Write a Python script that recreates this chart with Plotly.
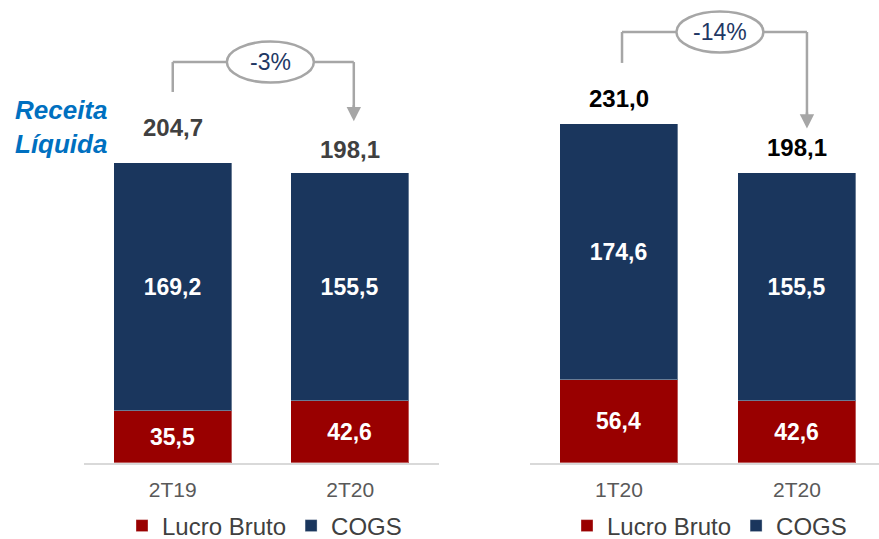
import plotly.graph_objects as go

# ---- data ----
left_categories = ["2T19", "2T20"]
left_lucro = [35.5, 42.6]
left_cogs = [169.2, 155.5]
left_totals = [204.7, 198.1]
left_change = "-3%"

right_categories = ["1T20", "2T20"]
right_lucro = [56.4, 42.6]
right_cogs = [174.6, 155.5]
right_totals = [231.0, 198.1]
right_change = "-14%"

series_names = ["Lucro Bruto", "COGS"]
side_title = "Receita<br>Líquida"

RED = "#990000"
NAVY = "#1A365D"
GRAY_LINE = "#A6A6A6"
FONT = "Liberation Sans, Arial, sans-serif"


def fmt(v):
    return f"{v:.1f}".replace(".", ",")


W, H = 879, 539
BASE_PX = 463          # baseline (px from top)
PX_PER_UNIT = 1.466
YMAX = BASE_PX / PX_PER_UNIT

fig = go.Figure()

panels = [
    ("x", "y", "legend", left_categories, left_lucro, left_cogs),
    ("x2", "y2", "legend2", right_categories, right_lucro, right_cogs),
]
for xa, ya, lg, cats, lucro, cogs in panels:
    fig.add_trace(go.Bar(
        x=cats, y=lucro, name=series_names[0], xaxis=xa, yaxis=ya, legend=lg,
        marker=dict(color=RED, line=dict(color="rgba(255,255,255,0.35)", width=1)),
        width=0.665, text=[fmt(v) for v in lucro], textposition="inside",
        insidetextanchor="middle", textangle=0,
        textfont=dict(color="white", size=23, family=FONT, weight="bold"),
        hoverinfo="skip",
    ))
    fig.add_trace(go.Bar(
        x=cats, y=cogs, name=series_names[1], xaxis=xa, yaxis=ya, legend=lg,
        marker=dict(color=NAVY, line=dict(color="rgba(255,255,255,0.35)", width=1)),
        width=0.665, text=[fmt(v) for v in cogs], textposition="inside",
        insidetextanchor="middle", textangle=0,
        textfont=dict(color="white", size=23, family=FONT, weight="bold"),
        hoverinfo="skip",
    ))

axis_common = dict(
    type="category", showgrid=False, zeroline=False, showline=True,
    linecolor="#D9D9D9", linewidth=2, ticks="outside", ticklen=7,
    tickcolor="rgba(0,0,0,0)", tickfont=dict(size=21, color="#595959", family=FONT),
    fixedrange=True, automargin=False,
)
yaxis_common = dict(range=[0, YMAX], domain=[(H - BASE_PX) / H, 1], visible=False,
                    fixedrange=True, automargin=False)

annotations = []
shapes = []

# total labels
label_specs = [
    ("x", "y", left_totals, "#404040", [35, 23]),
    ("x2", "y2", right_totals, "#000000", [26, 25]),
]
for xa, ya, totals, col, shifts in label_specs:
    for i, t in enumerate(totals):
        annotations.append(dict(
            x=i, y=t, xref=xa, yref=ya, text=f"<b>{fmt(t)}</b>", showarrow=False,
            yanchor="middle", yshift=shifts[i],
            font=dict(size=24, color=col, family=FONT),
        ))

# change brackets: (xref, yref, x_start, x_end, y_start, y_level, y_tip, oval_center, text)
brackets = [
    ("x", "y", 0.0, 1.02, left_totals[0] + 48.4, left_totals[0] + 68.8,
     left_totals[1] + 35.0, 0.55, left_change),
    ("x2", "y2", 0.017, 1.056, right_totals[0] + 41.9, right_totals[0] + 63.0,
     right_totals[1] + 30.0, 0.567, right_change),
]
for xa, ya, xs, xe, ys, yl, yt, oc, txt in brackets:
    ln = dict(color=GRAY_LINE, width=2.5)
    shapes.append(dict(type="line", xref=xa, yref=ya, x0=xs, x1=xs, y0=ys, y1=yl, line=ln))
    shapes.append(dict(type="line", xref=xa, yref=ya, x0=xs, x1=xe, y0=yl, y1=yl, line=ln))
    shapes.append(dict(type="line", xref=xa, yref=ya, x0=xe, x1=xe, y0=yl, y1=yt + 8, line=ln))
    annotations.append(dict(
        x=xe, y=yt, xref=xa, yref=ya, ax=xe, ay=yt + 12, axref=xa, ayref=ya,
        text="", showarrow=True, arrowhead=2, arrowsize=1.15, arrowwidth=2.5,
        arrowcolor=GRAY_LINE, standoff=0, startstandoff=0,
    ))
    shapes.append(dict(
        type="circle", xref=xa, yref=ya, xsizemode="pixel", ysizemode="pixel",
        xanchor=oc, yanchor=yl, x0=-43.5, x1=43.5, y0=-20.5, y1=20.5,
        fillcolor="white", line=ln, layer="above",
    ))
    annotations.append(dict(
        x=oc, y=yl, xref=xa, yref=ya, text=txt, showarrow=False,
        font=dict(size=23, color="#1F3864", family=FONT), yanchor="middle",
    ))

annotations.append(dict(
    x=13 / W, y=(H - 127) / H, xref="paper", yref="paper", xanchor="left",
    yanchor="middle", align="left", showarrow=False,
    text=f"<b><i>{side_title}</i></b>",
    font=dict(size=26, color="#0070C0", family=FONT),
))

legend_common = dict(
    orientation="h", yanchor="middle", xanchor="left", bgcolor="rgba(0,0,0,0)",
    font=dict(size=24, color="#404040", family=FONT), itemwidth=30,
    traceorder="normal", itemclick=False, itemdoubleclick=False,
)

fig.update_layout(
    width=W, height=H, margin=dict(l=0, r=0, t=0, b=0, autoexpand=False),
    paper_bgcolor="white", plot_bgcolor="white", barmode="stack", bargap=0,
    font=dict(family=FONT),
    xaxis=dict(axis_common, domain=[84 / W, 439 / W], range=[-0.5, 1.5], anchor="y"),
    yaxis=dict(yaxis_common, anchor="x"),
    xaxis2=dict(axis_common, domain=[530 / W, 1.0], range=[-0.5, 1.4607], anchor="y2"),
    yaxis2=dict(yaxis_common, anchor="x2"),
    legend=dict(legend_common, x=(148 - 26) / W, y=(H - 526) / H),
    legend2=dict(legend_common, x=(592 - 25) / W, y=(H - 526) / H),
    annotations=annotations, shapes=shapes, showlegend=True,
)

fig.write_html(
    "out.html",
    config={"displayModeBar": False},
    post_script="document.body.style.margin='0';document.body.style.padding='0';",
)
